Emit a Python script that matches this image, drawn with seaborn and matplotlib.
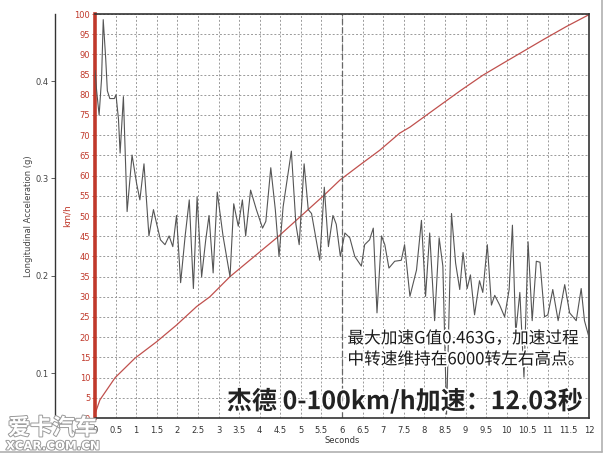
import numpy as np
import pandas as pd
import matplotlib
matplotlib.use("Agg")
import matplotlib.pyplot as plt
import matplotlib.patheffects as pe
from matplotlib.lines import Line2D
import seaborn as sns

# acceleration trace (g)
acc_t = [0.00, 0.04, 0.10, 0.16, 0.20, 0.26, 0.30, 0.36, 0.47, 0.51, 0.57, 0.61, 0.69, 0.78,
         0.90, 1.01, 1.09, 1.19, 1.31, 1.42, 1.50, 1.59, 1.70, 1.80, 1.89, 1.98, 2.08, 2.19,
         2.29, 2.39, 2.48, 2.59, 2.69, 2.77, 2.87, 2.97, 3.11, 3.28, 3.37, 3.48, 3.58, 3.66,
         3.78, 3.92, 4.07, 4.15, 4.27, 4.38, 4.47, 4.57, 4.77, 4.88, 4.96, 5.08, 5.18, 5.26,
         5.46, 5.57, 5.67, 5.78, 5.86, 5.96, 6.07, 6.19, 6.31, 6.47, 6.55, 6.67, 6.76, 6.85,
         6.96, 7.04, 7.14, 7.28, 7.44, 7.52, 7.65, 7.81, 7.93, 8.03, 8.13, 8.25, 8.36, 8.45,
         8.54, 8.66, 8.76, 8.86, 8.94, 9.04, 9.12, 9.22, 9.34, 9.42, 9.53, 9.63, 9.71, 9.83,
         9.95, 10.06, 10.14, 10.22, 10.32, 10.42, 10.52, 10.62, 10.72, 10.81, 10.92, 11.00,
         11.12, 11.25, 11.41, 11.53, 11.69, 11.81, 11.89, 12.00]
acc_g = [0.411, 0.390, 0.365, 0.403, 0.463, 0.423, 0.390, 0.382, 0.382, 0.386, 0.361, 0.326,
         0.384, 0.266, 0.324, 0.295, 0.278, 0.315, 0.241, 0.268, 0.253, 0.237, 0.232, 0.241,
         0.230, 0.262, 0.193, 0.241, 0.278, 0.187, 0.281, 0.199, 0.237, 0.262, 0.203, 0.286,
         0.241, 0.199, 0.274, 0.251, 0.278, 0.241, 0.288, 0.268, 0.249, 0.256, 0.311, 0.268,
         0.220, 0.271, 0.328, 0.253, 0.232, 0.315, 0.268, 0.264, 0.216, 0.291, 0.230, 0.262,
         0.253, 0.220, 0.244, 0.239, 0.220, 0.210, 0.232, 0.237, 0.249, 0.162, 0.241, 0.232,
         0.208, 0.215, 0.216, 0.232, 0.179, 0.206, 0.257, 0.179, 0.244, 0.154, 0.239, 0.210,
         0.058, 0.264, 0.213, 0.186, 0.224, 0.187, 0.201, 0.160, 0.195, 0.183, 0.232, 0.170,
         0.180, 0.170, 0.158, 0.186, 0.252, 0.141, 0.183, 0.096, 0.235, 0.154, 0.215, 0.214,
         0.158, 0.160, 0.186, 0.154, 0.191, 0.162, 0.154, 0.187, 0.154, 0.137]

# speed curve (km/h)
spd_t = [0, 0.12, 0.49, 0.97, 1.5, 1.98, 2.47, 2.79, 3.28, 4.45, 5.57, 5.95, 6.43, 6.92,
         7.4, 7.65, 8.45, 8.9, 9.43, 9.91, 10.88, 11.45, 12.03]
spd_kmh = [1, 4.5, 10, 14.8, 18.9, 23, 27.6, 30, 35, 44.9, 55.2, 58.9, 62.6, 66.3,
           70.5, 72, 77.9, 81.2, 84.9, 87.8, 93.6, 96.9, 100]

x_ticks = np.arange(0, 12.01, 0.5)
x_labels = [("%g" % v) for v in x_ticks]
kmh_ticks = list(range(0, 101, 5))
g_ticks = [0.1, 0.2, 0.3, 0.4]

note_lines = ["最大加速G值0.463G，加速过程", "中转速维持在6000转左右高点。"]
headline = "杰德 0-100km/h加速：12.03秒"

sns.set_style("white")
plt.rcParams["font.family"] = ["DejaVu Sans"]
cjk = ["Noto Sans CJK SC", "DejaVu Sans"]
red = "#c0392b"

acc = pd.DataFrame({"t": acc_t, "g": acc_g})
spd = pd.DataFrame({"t": spd_t, "kmh": spd_kmh})

fig = plt.figure(figsize=(6.08, 4.55), dpi=100)
ax = fig.add_axes([95 / 608, 37 / 455, 494 / 608, 404 / 455])

sns.lineplot(data=spd, x="t", y="kmh", ax=ax, color="#c0504d", lw=0.9)
ax.set_xlim(0, 12)
ax.set_ylim(0, 100)
ax.set_xticks(x_ticks)
ax.set_xticklabels(x_labels)
ax.set_yticks(kmh_ticks)
ax.grid(True, linestyle=(0, (2, 2)), color="#9a9a9a", lw=0.7)
ax.axvline(6, color="#666666", linestyle=(0, (5, 2)), lw=0.9)
ax.tick_params(axis="y", colors=red, labelsize=6, length=2, width=0.6, pad=1.5)
ax.tick_params(axis="x", colors="#333333", labelsize=6, length=2, width=0.6, pad=3.5)
for lab in ax.get_yticklabels():
    lab.set_color(red)
ax.set_xlabel("Seconds", fontsize=6, color="#333333", labelpad=1)
ax.set_ylabel("km/h", fontsize=6.5, color=red, labelpad=2)
ax.spines["left"].set_color(red)
ax.spines["left"].set_linewidth(2.6)
for s in ["top", "right", "bottom"]:
    ax.spines[s].set_color("#333333")
    ax.spines[s].set_linewidth(1.2)

ax2 = ax.twinx()
sns.lineplot(data=acc, x="t", y="g", ax=ax2, color="#555555", lw=0.8)
ax2.set_ylim(0.0541, 0.4688)
ax2.set_yticks(g_ticks)
ax2.set_yticklabels([("%g" % v) for v in g_ticks])
ax2.yaxis.set_ticks_position("left")
ax2.yaxis.set_label_position("left")
ax2.spines["left"].set_position(("outward", 28.8))
ax2.spines["left"].set_color("#333333")
ax2.spines["left"].set_linewidth(1.0)
for s in ["top", "right", "bottom"]:
    ax2.spines[s].set_visible(False)
ax2.tick_params(axis="y", colors="#444444", labelsize=6, length=3, width=0.6, pad=1.5)
ax2.set_ylabel("Longitudinal Acceleration (g)", fontsize=6, color="#444444", labelpad=1.5)
ax2.set_xlabel("")

halo = [pe.withStroke(linewidth=2.5, foreground="white")]
ax2.text(0.511, 0.196, note_lines[0], transform=ax.transAxes, family=cjk, fontsize=12,
         color="#1a1a1a", ha="left", va="center", path_effects=halo)
ax2.text(0.511, 0.144, note_lines[1], transform=ax.transAxes, family=cjk, fontsize=12,
         color="#1a1a1a", ha="left", va="center", path_effects=halo)
ax2.text(0.267, 0.042, headline, transform=ax.transAxes, family=cjk, fontsize=18,
         weight="bold", color="#222222", ha="left", va="center", path_effects=halo)

# watermark
logo_fx = [pe.withStroke(linewidth=1.4, foreground="#9a9a9a")]
fig.text(8 / 608, 1 - 428 / 455, "爱卡汽车", family=cjk, fontsize=16, weight="bold",
         color="white", ha="left", va="center", path_effects=logo_fx)
fig.text(6 / 608, 1 - 446 / 455, "XCAR.COM.CN", fontsize=8.5, weight="bold",
         color="white", ha="left", va="center", path_effects=logo_fx)

fig.add_artist(Line2D([0, 602 / 608], [1 - 452 / 455] * 2, transform=fig.transFigure,
                      color="#b0b0b0", lw=1.2))
fig.add_artist(Line2D([602 / 608] * 2, [1 - 452 / 455, 1], transform=fig.transFigure,
                      color="#b0b0b0", lw=1.2))

fig.savefig("out.png", dpi=100)
